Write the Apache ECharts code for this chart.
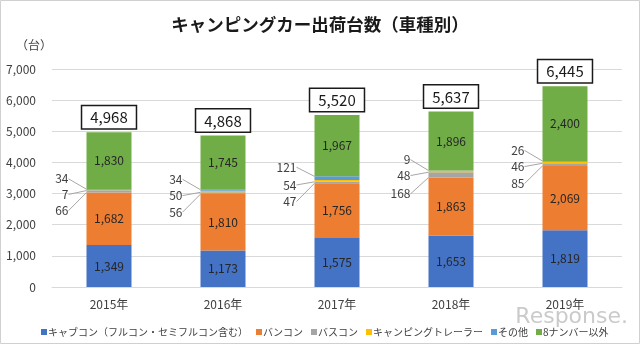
<!DOCTYPE html>
<html><head><meta charset="utf-8">
<script src="https://cdn.jsdelivr.net/npm/echarts@6/dist/echarts.min.js"></script>
<style>html,body{margin:0;padding:0;background:#fff}#c{width:640px;height:344px}</style>
</head><body><div id="c"></div>
<script>
const categories = ['2015年','2016年','2017年','2018年','2019年'];
const cabcon   = [1349, 1173, 1575, 1653, 1819];
const vancon   = [1682, 1810, 1756, 1863, 2069];
const buscon   = [66, 56, 47, 168, 85];
const trailer  = [7, 50, 54, 48, 46];
const other    = [34, 34, 121, 9, 26];
const non8     = [1830, 1745, 1967, 1896, 2400];
const totals   = [4968, 4868, 5520, 5637, 6445];
const yTicks   = [0, 1000, 2000, 3000, 4000, 5000, 6000, 7000];

const names = ['キャブコン（フルコン・セミフルコン含む）','バンコン','バスコン','キャンピングトレーラー','その他','8ナンバー以外'];
const colors = ['#4472C4','#ED7D31','#A5A5A5','#FFC000','#5B9BD5','#70AD47'];
const F = '"Noto Sans CJK JP", sans-serif';
const fmt = v => Number(v).toLocaleString('en-US');

function big(name, data, color) {
  return {name, type:'bar', stack:'s', data, barWidth:45, itemStyle:{color},
    label:{show:true, position:'inside', formatter:p=>fmt(p.value), fontSize:12, color:'#262626', fontFamily:F}};
}
function small(name, data, color, dy) {
  return {name, type:'bar', stack:'s', data, barWidth:45, itemStyle:{color},
    label:{show:true, position:'left', distance:18, formatter:p=>fmt(p.value), fontSize:12, color:'#404040', fontFamily:F},
    labelLine:{show:true, lineStyle:{color:'#a6a6a6', width:1}},
    labelLayout:{dy:dy}};
}

const chart = echarts.init(document.getElementById('c'), null, {renderer:'canvas'});
chart.setOption({
  animation:false,
  textStyle:{fontFamily:F},
  title:{text:'キャンピングカー出荷台数（車種別）', left:'center', top:11,
    textStyle:{fontSize:17.5, fontWeight:'bold', color:'#1a1a1a', fontFamily:F}},
  legend:{data:names, left:36, top:322, itemWidth:6, itemHeight:6, itemGap:8, icon:'rect',
    textStyle:{fontSize:10, color:'#404040', fontFamily:F, padding:[0,0,0,-4]}},
  grid:{left:52, right:18, top:69, bottom:57},
  xAxis:{type:'category', data:categories, axisTick:{show:false},
    axisLine:{lineStyle:{color:'#d9d9d9'}},
    axisLabel:{fontSize:12, color:'#404040', margin:11, fontFamily:F}},
  yAxis:{type:'value', min:yTicks[0], max:yTicks[yTicks.length-1], interval:1000,
    axisLabel:{formatter:v=>fmt(v), fontSize:12, color:'#404040', margin:16, fontFamily:F},
    splitLine:{lineStyle:{color:'#d9d9d9'}}},
  graphic:[
    {type:'text', left:16, top:39, style:{text:'（台）', fontSize:12, fill:'#404040', fontFamily:F}},
    {type:'rect', shape:{x:0.5,y:0.5,width:639,height:343}, style:{fill:'none', stroke:'#d0d0d0', lineWidth:1}, silent:true},
    {type:'text', right:12, top:306, style:{text:'Response.', fontSize:22, fill:'rgba(150,150,150,0.5)', fontFamily:'"DejaVu Sans", sans-serif'}, z:100}
  ],
  series:[
    big(names[0], cabcon, colors[0]),
    big(names[1], vancon, colors[1]),
    small(names[2], buscon, colors[2], 19),
    small(names[3], trailer, colors[3], 4),
    small(names[4], other, colors[4], -11),
    big(names[5], non8, colors[5]),
    {name:'合計', type:'bar', data:totals, barWidth:45, barGap:'-100%', silent:true,
      itemStyle:{color:'rgba(0,0,0,0)'},
      label:{show:true, position:'top', distance:4, formatter:p=>fmt(p.value), fontSize:15, color:'#1a1a1a',
        fontFamily:F, backgroundColor:'#fff', borderColor:'#1a1a1a', borderWidth:1.5, padding:[4,8,3,8]}}
  ]
});
</script></body></html>
